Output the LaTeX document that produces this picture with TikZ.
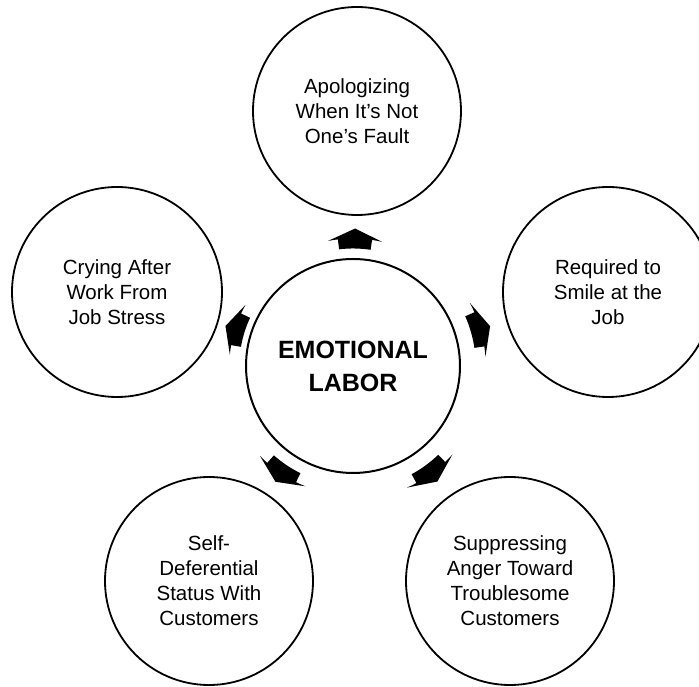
\documentclass[tikz,border=0pt]{standalone}
\usepackage{fontspec}
\setmainfont{Liberation Sans}
\usetikzlibrary{calc}

% Curved block arrow sitting halfway between a hub (#1) and a satellite (#2),
% built from arcs concentric with the hub.
\newcommand\gaparrow[2]{%
  \fill[arrowfill] let \p1=($(#2)-(#1)$),
        \n1={atan2(\y1,\x1)},
        \n2={veclen(\x1,\y1)/2},
        \n3={veclen(\x1,\y1)/2-10},
        \n4={veclen(\x1,\y1)/2+10} in
    ([shift={(#1)}]\n1-7.7:\n3)
      arc[start angle=\n1-7.7, end angle=\n1+7.7, radius=\n3]
    -- ([shift={(#1)}]\n1+7.7:\n2)
      arc[start angle=\n1+7.7, end angle=\n1+12.2, radius=\n2]
    -- ([shift={(#1)}]\n1:\n4)
    -- ([shift={(#1)}]\n1-12.2:\n2)
      arc[start angle=\n1-12.2, end angle=\n1-7.7, radius=\n2]
    -- cycle;}

\begin{document}
\begin{tikzpicture}[x=1pt,y=1pt,
  bubble/.style={circle, draw, line width=1.8pt, minimum size=#1,
    inner sep=0pt, align=center, font=\fontsize{20.5}{25}\selectfont},
  hub/.style={circle, draw, line width=2pt, minimum size=214pt,
    inner sep=0pt, align=center, font=\bfseries\fontsize{25}{33}\selectfont},
  arrowfill/.style={fill=black}]
\useasboundingbox (0,0) rectangle (699,687);
\clip (0,0) rectangle (699,687);

% central concept
\node[hub] (C) at (353,321) {EMOTIONAL\\LABOR};

% surrounding aspects
\node[bubble=208pt] (T)  at (357,576) {Apologizing\\When It’s Not\\One’s Fault};
\node[bubble=210pt] (R)  at (608,395) {Required to\\Smile at the\\Job};
\node[bubble=210pt] (L)  at (117,395) {Crying After\\Work From\\Job Stress};
\node[bubble=208pt] (BL) at (209,106) {Self-\\Deferential\\Status With\\Customers};
\node[bubble=208pt] (BR) at (510,106) {Suppressing\\Anger Toward\\Troublesome\\Customers};

% arrows pointing outwards from the hub
\gaparrow{C}{T}
\gaparrow{C}{R}
\gaparrow{C}{L}
\gaparrow{C}{BL}
\gaparrow{C}{BR}
\end{tikzpicture}
\end{document}
